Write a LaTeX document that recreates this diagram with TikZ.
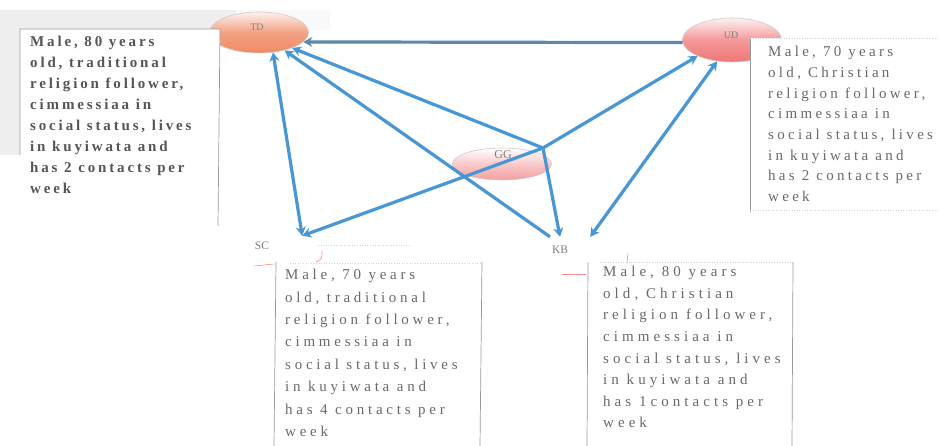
\documentclass[tikz,border=0pt]{standalone}
\usepackage{fontspec}
\setmainfont{Liberation Serif}
\newfontfamily\tdfont[LetterSpace=19]{Liberation Serif}
\newfontfamily\udfont[LetterSpace=22]{Liberation Serif}
\newfontfamily\scfont[LetterSpace=25]{Liberation Serif}
\newfontfamily\kbfont[LetterSpace=27]{Liberation Serif}
\usetikzlibrary{arrows.meta,shapes.geometric}
\definecolor{arrblue}{RGB}{72,150,212}
\definecolor{arrgrey}{RGB}{92,138,168}
\definecolor{tdorange}{RGB}{240,138,100}
\definecolor{udred}{RGB}{240,118,118}
\definecolor{ggpink}{RGB}{244,158,158}
\definecolor{txtdark}{RGB}{85,85,85}
\definecolor{txtgrey}{RGB}{105,105,105}
\begin{document}
\begin{tikzpicture}[x=1pt,y=-1pt,
  ell/.style={ellipse, draw=gray!40, line width=0.6pt, minimum width=99pt, inner sep=0pt},
  lbl/.style={text=gray, inner sep=0pt},
  arr/.style={draw=arrblue, line width=3.2pt, -{Stealth[length=9pt,width=10pt]}},
  dblarr/.style={draw=arrblue, line width=3.2pt, {Stealth[length=9pt,width=10pt]}-{Stealth[length=9pt,width=10pt]}},
  boxline/.style={draw=gray!80, line width=0.7pt},
  faint/.style={draw=gray!35, line width=0.6pt, dotted},
  redmark/.style={draw=red!45, line width=0.6pt},
  boxtext/.style={anchor=north west, inner sep=0pt, align=left, text=txtgrey},
  anchorbox/.style={inner sep=0pt, text=gray, font=\fontsize{11.5}{13}\selectfont}
]
\useasboundingbox (0,0) rectangle (939,446);
\fill[white] (0,0) rectangle (939,446);
% grey texture behind the first box
\fill[gray!13] (0,10) rectangle (220,155);
\fill[gray!13] (0,10) rectangle (236,29);
\fill[gray!5] (236,10) rectangle (330,30);

% ellipses
\node[ell, minimum height=41pt, top color=tdorange!12!white, bottom color=tdorange, middle color=tdorange!80!white] (TD) at (259,32.5) {};
\node[ell, minimum height=44pt, top color=udred!10!white, bottom color=udred, middle color=udred!75!white] (UD) at (732,40) {};
\node[ell, minimum height=32pt, top color=white, bottom color=ggpink, middle color=ggpink!55!white] (GG) at (502,164) {};
\node[lbl, font=\fontsize{10}{12}\selectfont] (TDl) at (257,27) {TD};
\node[lbl, font=\fontsize{10}{12}\selectfont] (UDl) at (731,35) {UD};
\node[lbl, font=\fontsize{12}{14}\selectfont] (GGl) at (503,155) {GG};

% text boxes
\fill[white] (20,29) rectangle (220,226);
\draw[boxline] (20,155) -- (20,29) -- (220,29) -- (218,226);
\fill[white] (750,38) rectangle (939,210);
\draw[boxline] (750,38) -- (750,212);
\draw[faint] (750,38) -- (939,38);
\draw[faint] (750,210) -- (939,210);
\fill[white] (276,262) rectangle (482,446);
\draw[boxline] (276,262) -- (274,446);
\draw[boxline] (482,262) -- (480,446);
\draw[faint] (290,263) -- (482,263);
\fill[white] (588,262) rectangle (793,446);
\draw[boxline] (588,262) -- (587,446);
\draw[boxline] (793,262) -- (792,446);
\draw[faint] (600,262) -- (793,262);
\draw[faint] (318,245) -- (410,245);

% small red marks
\draw[redmark] (254,266) -- (274,264);
\draw[redmark] (316,262) .. controls (322,259) .. (322,251);
\draw[redmark] (562,274) -- (586,274);
\draw[redmark] (628,253) -- (627,263);

% texts
\node[boxtext, text=txtdark, font=\tdfont\bfseries\fontsize{15}{21}\selectfont] (TDt) at (30,36)
  {Male, 80 years\\old, traditional\\religion follower,\\cimmessiaa in\\social status, lives\\in kuyiwata and\\has 2 contacts per\\week};
\node[boxtext, font=\udfont\fontsize{15}{20.7}\selectfont] (UDt) at (768,46)
  {Male, 70 years\\old, Christian\\religion follower,\\cimmessiaa in\\social status, lives\\in kuyiwata and\\has 2 contacts per\\week};
\node[boxtext, font=\scfont\fontsize{15}{22.4}\selectfont] (SCt) at (285,269)
  {Male, 70 years\\old, traditional\\religion follower,\\cimmessiaa in\\social status, lives\\in kuyiwata and\\has 4 contacts per\\week};
\node[boxtext, font=\kbfont\fontsize{15}{21.6}\selectfont] (KBt) at (603,266)
  {Male, 80 years\\old, Christian\\religion follower,\\cimmessiaa in\\social status, lives\\in kuyiwata and\\has 1contacts per\\week};

% SC and KB labels (nodes sized so their upper corners carry the arrow ends)
\node[anchorbox, minimum width=80pt, minimum height=20pt] (SC) at (262,246) {SC};
\node[anchorbox, minimum width=60pt, minimum height=26pt] (KB) at (560,250) {KB};
\coordinate (hub) at (543,148);

% connectors
\draw[arr, draw=arrgrey] (UD.183) -- (TD.-12);
\draw[arr] (hub) -- (TD.-25);
\draw[arr] ([xshift=-10pt]KB.north) -- (TD.-35);
\draw[dblarr] (SC.north east) -- (TD.-55);
\draw[arr] (hub) -- (SC.north east);
\draw[arr] (hub) -- (UD.205);
\draw[arr] (hub) -- (KB.north);
\draw[dblarr] (KB.north east) -- (UD.235);
\end{tikzpicture}
\end{document}
